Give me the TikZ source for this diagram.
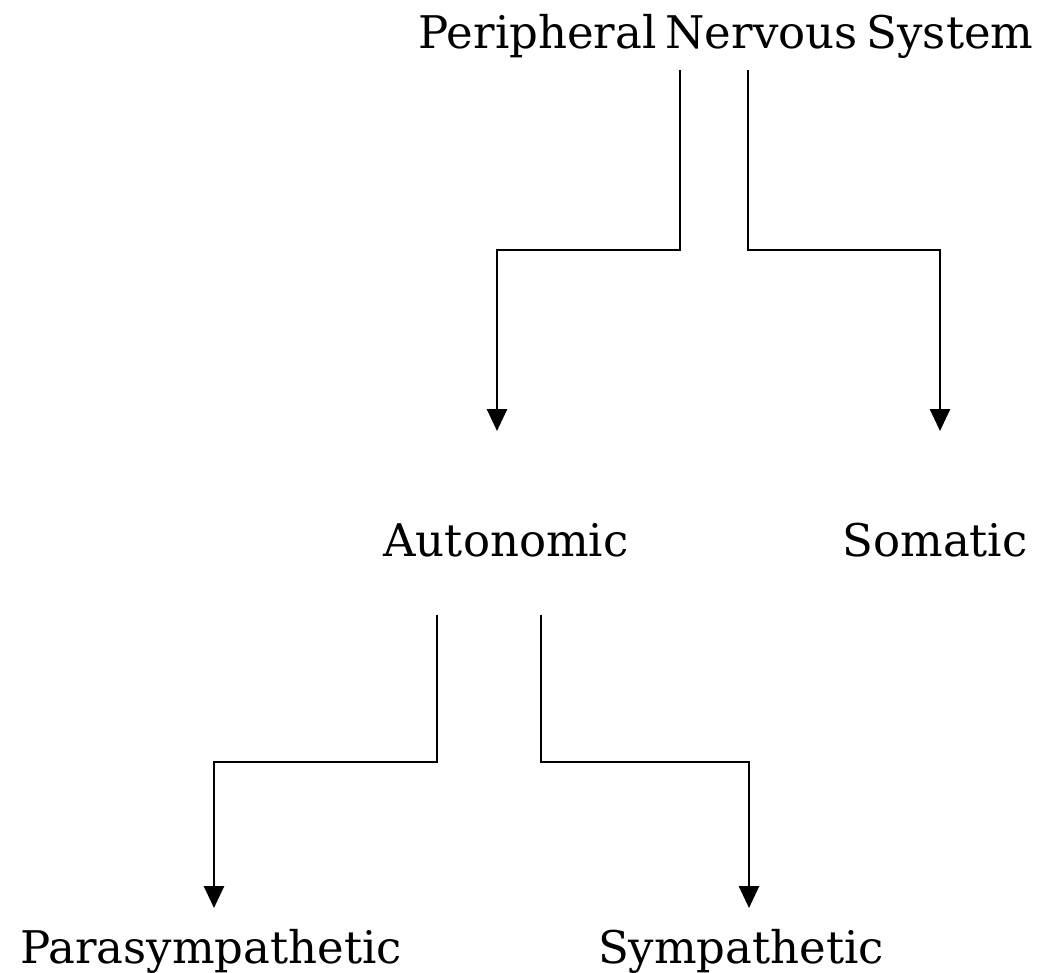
\documentclass[tikz,border=0pt]{standalone}
\usepackage{fontspec}
\setmainfont{DejaVu Serif}
\usetikzlibrary{arrows.meta}
\begin{document}
\begin{tikzpicture}[x=1pt,y=-1pt,
  lbl/.style={anchor=base,inner sep=0pt,font=\fontsize{45}{50}\selectfont},
  arr/.style={line width=2.8pt,-{Triangle[width=20pt,length=22pt]}}]
\useasboundingbox[fill=white] (0,0) rectangle (1044,972);
\node[lbl] (pns) at (726,48) {Peripheral\hspace{0.2em}Nervous\hspace{0.2em}System};
\node[lbl] (aut) at (506,556) {Autonomic};
\node[lbl] (som) at (935,556) {Somatic};
\node[lbl] (par) at (211,963) {Parasympathetic};
\node[lbl] (sym) at (741,963) {Sympathetic};
\coordinate (pL) at (680,70);
\coordinate (pR) at (748,70);
\coordinate (tA) at (497,431);
\coordinate (tS) at (940,431);
\coordinate (aL) at (437,615);
\coordinate (aR) at (541,615);
\coordinate (tP) at (214,908);
\coordinate (tY) at (749,908);
\draw[arr] (pL) -- ++(0,180) -| (tA);
\draw[arr] (pR) -- ++(0,180) -| (tS);
\draw[arr] (aL) -- ++(0,147) -| (tP);
\draw[arr] (aR) -- ++(0,147) -| (tY);
\end{tikzpicture}
\end{document}
